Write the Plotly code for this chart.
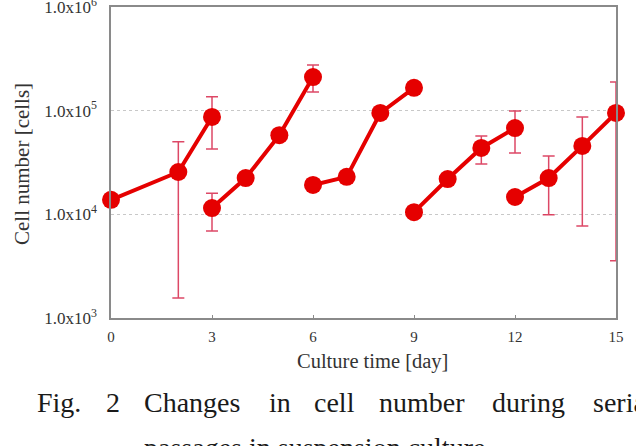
import plotly.graph_objects as go

# ---- data ----
p1_day = [0, 2, 3]
p1_cells = [1.38e4, 2.56e4, 8.7e4]
p1_upper = [1.38e4, 5.0e4, 1.36e5]
p1_lower = [1.38e4, 1.56e3, 4.27e4]

p2_day = [3, 4, 5, 6]
p2_cells = [1.15e4, 2.24e4, 5.8e4, 2.11e5]
p2_upper = [1.6e4, 2.24e4, 5.8e4, 2.76e5]
p2_lower = [6.9e3, 2.24e4, 5.8e4, 1.51e5]

p3_day = [6, 7, 8, 9]
p3_cells = [1.92e4, 2.3e4, 9.5e4, 1.66e5]
p3_upper = [1.92e4, 2.3e4, 9.5e4, 1.66e5]
p3_lower = [1.92e4, 2.3e4, 9.5e4, 1.66e5]

p4_day = [9, 10, 11, 12]
p4_cells = [1.05e4, 2.19e4, 4.37e4, 6.8e4]
p4_upper = [1.05e4, 2.19e4, 5.7e4, 9.9e4]
p4_lower = [1.05e4, 2.19e4, 3.06e4, 3.9e4]

p5_day = [12, 13, 14, 15]
p5_cells = [1.47e4, 2.24e4, 4.57e4, 9.5e4]
p5_upper = [1.47e4, 3.66e4, 8.7e4, 1.89e5]
p5_lower = [1.47e4, 9.9e3, 7.7e3, 3.56e3]

x_ticks = [0, 3, 6, 9, 12, 15]
y_tickvals = [1e3, 1e4, 1e5, 1e6]
y_ticktext = ["1.0x10<sup>3</sup>", "1.0x10<sup>4</sup>", "1.0x10<sup>5</sup>", "1.0x10<sup>6</sup>"]

x_title = "Culture time [day]"
y_title = "Cell number [cells]"
caption_line1 = ["Fig.", "2", "Changes", "in", "cell", "number", "during", "serial"]
caption_line2 = "passages in suspension culture."

# ---- styling ----
W, H = 636, 446
ML, MR, MT, MB = 111, 20, 7, 128
PW, PH = W - ML - MR, H - MT - MB
RED = "#e50000"
ERR = "rgba(215,40,75,0.85)"
SERIF = "Liberation Serif, Times New Roman, serif"
TXT = "#333333"


def px2paper_x(px):
    return (px - ML) / PW


def px2paper_y(py):
    return (H - MB - py) / PH


fig = go.Figure()
passages = [
    (p1_day, p1_cells, p1_upper, p1_lower),
    (p2_day, p2_cells, p2_upper, p2_lower),
    (p3_day, p3_cells, p3_upper, p3_lower),
    (p4_day, p4_cells, p4_upper, p4_lower),
    (p5_day, p5_cells, p5_upper, p5_lower),
]
for d, c, up, lo in passages:
    plus = [u - v for u, v in zip(up, c)]
    minus = [v - l for l, v in zip(lo, c)]
    fig.add_trace(go.Scatter(
        x=d, y=c, mode="lines+markers",
        line=dict(color=RED, width=4),
        marker=dict(color=RED, size=18, line=dict(width=0)),
        error_y=dict(type="data", symmetric=False, array=plus, arrayminus=minus,
                     color=ERR, thickness=1.5, width=6),
        showlegend=False, cliponaxis=False,
    ))

fig.update_xaxes(
    range=[0, 15], tickvals=x_ticks, ticktext=[str(t) for t in x_ticks],
    showline=True, linecolor="#8a8a8a", linewidth=1.5, mirror=True,
    ticks="inside", ticklen=3, tickcolor="#8a8a8a",
    showgrid=False, zeroline=False,
    tickfont=dict(family=SERIF, size=15, color=TXT),
    ticklabelstandoff=4,
)
fig.update_yaxes(
    type="log", range=[3 - 1e-4, 6 + 1e-4], tickvals=y_tickvals, ticktext=y_ticktext,
    showline=True, linecolor="#8a8a8a", linewidth=1.5, mirror=True,
    ticks="", showgrid=True, gridcolor="#c8c8c8", griddash="dot", gridwidth=1,
    zeroline=False,
    tickfont=dict(family=SERIF, size=17, color=TXT),
    ticklabelstandoff=9, ticklabeloverflow="allow",
)

annotations = [
    dict(text=x_title, xref="paper", yref="paper", x=px2paper_x(372), y=px2paper_y(361),
         xanchor="center", yanchor="middle", showarrow=False,
         font=dict(family=SERIF, size=20.5, color=TXT)),
    dict(text=y_title, xref="paper", yref="paper", x=px2paper_x(22), y=px2paper_y(164),
         xanchor="center", yanchor="middle", textangle=-90, showarrow=False,
         font=dict(family=SERIF, size=21, color=TXT)),
]
word_x = [35, 104, 142, 267, 312, 377, 490, 591]
for word, xpx in zip(caption_line1, word_x):
    annotations.append(dict(
        text=word, xref="paper", yref="paper", x=px2paper_x(xpx), y=px2paper_y(402),
        xanchor="left", yanchor="middle", showarrow=False,
        font=dict(family=SERIF, size=28, color="#1a1a1a"),
    ))
annotations.append(dict(
    text=caption_line2, xref="paper", yref="paper", x=px2paper_x(142), y=px2paper_y(447),
    xanchor="left", yanchor="middle", showarrow=False,
    font=dict(family=SERIF, size=28, color="#1a1a1a"),
))

fig.update_layout(
    width=W, height=H,
    margin=dict(l=ML, r=MR, t=MT, b=MB, autoexpand=False),
    plot_bgcolor="white", paper_bgcolor="white",
    annotations=annotations,
)

fig.write_html("out.html")
